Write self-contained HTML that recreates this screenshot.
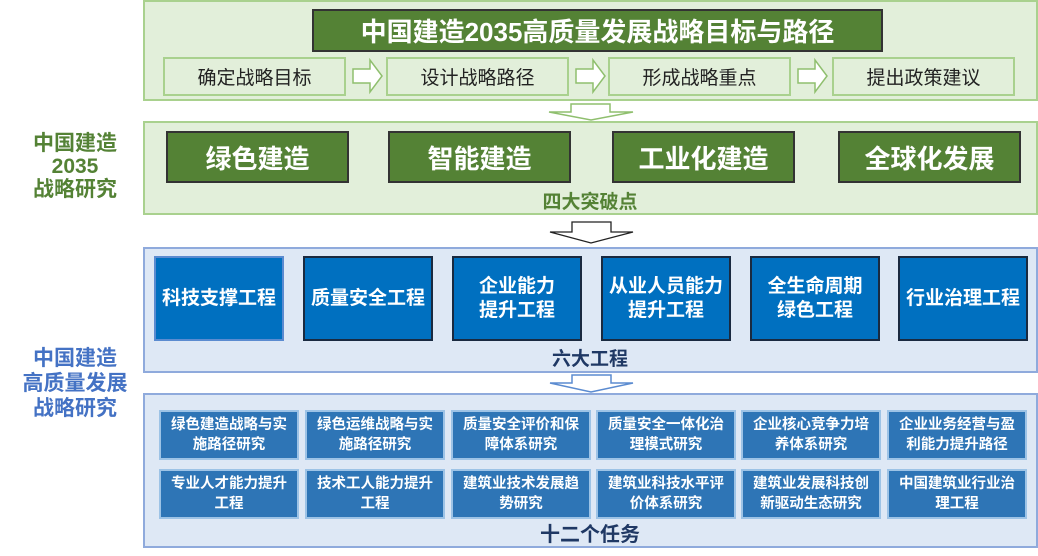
<!DOCTYPE html>
<html><head><meta charset="utf-8"><style>
body{margin:0;width:1038px;height:556px;background:#fff;position:relative;overflow:hidden;font-family:"Liberation Sans","Noto Sans CJK SC",sans-serif}
div{position:absolute;box-sizing:border-box}
.c{display:flex;align-items:center;justify-content:center;text-align:center}
.gp{background:#e2efda;border:2px solid #a9d18e}
.bp{background:#dee8f5;border:2px solid #8faadc}
.st{background:#e2efda;border:2px solid #a9d18e;font-size:19px;color:#222;top:57px;height:39px;width:183px}
.gb{background:#548235;border:2px solid #333;color:#fff;font-size:26px;font-weight:bold;top:131px;height:52px;width:183px}
.sb{background:#0070c0;border:2px solid #1a2a40;color:#fff;font-size:19px;font-weight:bold;top:256px;height:85px;width:130px;line-height:24px}
.tb{background:#2e75b6;border:2px solid #9dc3e6;color:#fff;font-size:14.5px;font-weight:bold;width:140px;height:50px;line-height:20px}
</style></head><body>
<div class="gp" style="left:143px;top:0;width:895px;height:101px"></div>
<div class="c" style="left:312px;top:9px;width:571px;height:43px;background:#548235;border:2px solid #333;color:#fff;font-size:26px;font-weight:bold">中国建造2035高质量发展战略目标与路径</div>
<div class="st c" style="left:163px">确定战略目标</div>
<div class="st c" style="left:386px">设计战略路径</div>
<div class="st c" style="left:608px">形成战略重点</div>
<div class="st c" style="left:832px">提出政策建议</div>
<svg style="position:absolute;left:0;top:0" width="1038" height="556">
<g fill="#fff" stroke="#8fbf6e" stroke-width="1.5">
<path d="M353 69h17v-9l12 16-12 16v-9h-17z"/>
<path d="M576 69h17v-9l12 16-12 16v-9h-17z"/>
<path d="M798 69h17v-9l12 16-12 16v-9h-17z"/>
<path d="M571 104h39v8h23l-42 8-42-8h22z"/>
</g>
<path d="M572 222h39v10h22l-42 11-41-11h22z" fill="#fff" stroke="#222" stroke-width="1.3"/>
<path d="M572 375h39v8h22l-42 9-41-9h22z" fill="#fff" stroke="#5b8bd0" stroke-width="1.5"/>
</svg>
<div class="gp" style="left:143px;top:121px;width:895px;height:94px"></div>
<div class="gb c" style="left:166px">绿色建造</div>
<div class="gb c" style="left:388px">智能建造</div>
<div class="gb c" style="left:612px">工业化建造</div>
<div class="gb c" style="left:838px">全球化发展</div>
<div class="c" style="left:510px;top:187px;width:160px;height:26px;color:#548235;font-size:19px;font-weight:bold">四大突破点</div>
<div class="c" style="left:10px;top:121px;width:130px;height:90px;color:#548235;font-size:21px;line-height:23px;font-weight:bold">中国建造<br>2035<br>战略研究</div>
<div class="bp" style="left:143px;top:247px;width:895px;height:126px"></div>
<div class="sb c" style="left:154px;border-color:#5b8bd0">科技支撑工程</div>
<div class="sb c" style="left:303px">质量安全工程</div>
<div class="sb c" style="left:452px">企业能力<br>提升工程</div>
<div class="sb c" style="left:601px">从业人员能力<br>提升工程</div>
<div class="sb c" style="left:750px">全生命周期<br>绿色工程</div>
<div class="sb c" style="left:898px">行业治理工程</div>
<div class="c" style="left:520px;top:343px;width:140px;height:28px;color:#1f3864;font-size:19px;font-weight:bold">六大工程</div>
<div class="c" style="left:5px;top:343px;width:140px;height:80px;color:#4472c4;font-size:21px;line-height:25px;font-weight:bold">中国建造<br>高质量发展<br>战略研究</div>
<div class="bp" style="left:143px;top:393px;width:895px;height:155px"></div>
<div class="tb c" style="left:159px;top:410px">绿色建造战略与实<br>施路径研究</div>
<div class="tb c" style="left:305px;top:410px">绿色运维战略与实<br>施路径研究</div>
<div class="tb c" style="left:451px;top:410px">质量安全评价和保<br>障体系研究</div>
<div class="tb c" style="left:596px;top:410px">质量安全一体化治<br>理模式研究</div>
<div class="tb c" style="left:741px;top:410px">企业核心竞争力培<br>养体系研究</div>
<div class="tb c" style="left:887px;top:410px">企业业务经营与盈<br>利能力提升路径</div>
<div class="tb c" style="left:159px;top:469px">专业人才能力提升<br>工程</div>
<div class="tb c" style="left:305px;top:469px">技术工人能力提升<br>工程</div>
<div class="tb c" style="left:451px;top:469px">建筑业技术发展趋<br>势研究</div>
<div class="tb c" style="left:596px;top:469px">建筑业科技水平评<br>价体系研究</div>
<div class="tb c" style="left:741px;top:469px">建筑业发展科技创<br>新驱动生态研究</div>
<div class="tb c" style="left:887px;top:469px">中国建筑业行业治<br>理工程</div>
<div class="c" style="left:510px;top:518px;width:160px;height:28px;color:#1f3864;font-size:20px;font-weight:bold">十二个任务</div>
</body></html>
